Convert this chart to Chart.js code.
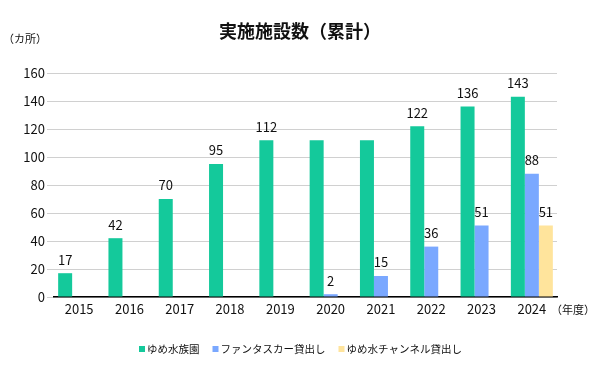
<!DOCTYPE html>
<html>
<head>
<meta charset="utf-8">
<script src="https://cdn.jsdelivr.net/npm/chart.js@4"></script>
<style>
    html, body { margin: 0; padding: 0; background: #fff; }
    #wrap { width: 600px; height: 365px; }
</style>
</head>
<body>
<div id="wrap"><canvas id="chart"></canvas></div>
<script>
// 実施施設数（累計）
const years = ["2015", "2016", "2017", "2018", "2019", "2020", "2021", "2022", "2023", "2024"];
const aquarium = [17, 42, 70, 95, 112, 112, 112, 122, 136, 143];
const fantaCar = [null, null, null, null, null, 2, 15, 36, 51, 88];
const channel = [null, null, null, null, null, null, null, null, null, 51];
const hiddenAquariumLabels = ["2020", "2021"];
const yTicks = [0, 20, 40, 60, 80, 100, 120, 140, 160];

const FONT = "'Noto Sans CJK JP', 'Noto Sans', sans-serif";

// Value labels, title, unit texts and legend
const labelPlugin = {
    id: "labels",
    afterDatasetsDraw(chart) {
        const ctx = chart.ctx;
        ctx.save();
        ctx.fillStyle = "#111";
        ctx.font = "13px " + FONT;
        ctx.textAlign = "center";
        ctx.textBaseline = "bottom";
        chart.data.datasets.forEach((ds, i) => {
            const meta = chart.getDatasetMeta(i);
            meta.data.forEach((bar, j) => {
                const v = ds.data[j];
                if (v == null) return;
                if (i === 0 && hiddenAquariumLabels.includes(years[j])) return;
                ctx.fillText(String(v), bar.x, bar.y - 7);
            });
        });

        const area = chart.chartArea;
        ctx.font = "bold 18px " + FONT;
        ctx.fillText("実施施設数（累計）", 300, 40);

        ctx.font = "11px " + FONT;
        ctx.textAlign = "left";
        ctx.textBaseline = "middle";
        ctx.fillText("（カ所）", 3, 39);
        ctx.fillText("（年度）", area.right - 6, 310);

        // legend
        ctx.font = "10.5px " + FONT;
        let x = 139;
        const y = 349;
        chart.data.datasets.forEach(ds => {
            ctx.fillStyle = ds.backgroundColor;
            ctx.fillRect(x, y - 3, 6, 6);
            x += 8;
            ctx.fillStyle = "#111";
            ctx.fillText(ds.label, x, y);
            x += ctx.measureText(ds.label).width + 13;
        });
        ctx.restore();
    }
};

new Chart(document.getElementById("chart"), {
    type: "bar",
    data: {
        labels: years,
        datasets: [
            { label: "ゆめ水族園", data: aquarium, backgroundColor: "#14c99b" },
            { label: "ファンタスカー貸出し", data: fantaCar, backgroundColor: "#7aa8ff" },
            { label: "ゆめ水チャンネル貸出し", data: channel, backgroundColor: "#ffe49c" }
        ]
    },
    options: {
        responsive: true,
        maintainAspectRatio: false,
        animation: false,
        categoryPercentage: 0.835,
        barPercentage: 1,
        layout: { padding: { top: 73, right: 43, left: 0, bottom: 40 } },
        plugins: {
            title: { display: false },
            tooltip: { enabled: false },
            legend: { display: false }
        },
        scales: {
            x: {
                grid: { display: false },
                border: { color: "#000", width: 1.5 },
                ticks: { font: { size: 13, family: FONT }, color: "#111", padding: -4 },
                afterFit(scale) { scale.height = 28; }
            },
            y: {
                min: 0,
                max: 160,
                afterBuildTicks(scale) { scale.ticks = yTicks.map(v => ({ value: v })); },
                grid: { color: "#d0d0d0", tickLength: 7 },
                border: { display: false },
                ticks: { font: { size: 13, family: FONT }, color: "#111", padding: 2 },
                afterFit(scale) { scale.width = 54; }
            }
        }
    },
    plugins: [labelPlugin]
});
</script>
</body>
</html>
